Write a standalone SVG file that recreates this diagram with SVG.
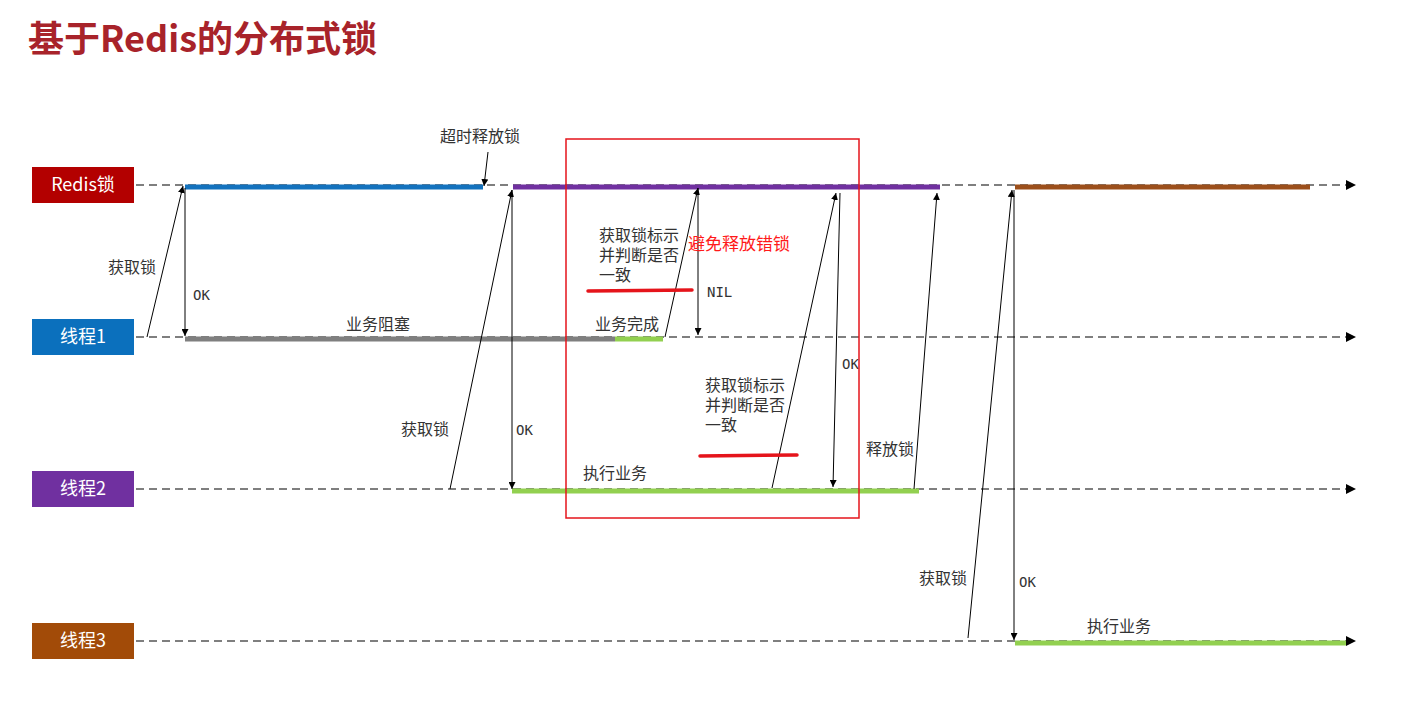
<svg xmlns="http://www.w3.org/2000/svg" width="1403" height="704" viewBox="0 0 1403 704">
<defs>
<marker id="ah" viewBox="0 0 10 10" refX="10" refY="5" markerWidth="7" markerHeight="7" orient="auto-start-reverse" markerUnits="userSpaceOnUse"><path d="M0,0L10,5L0,10z" fill="#000"/></marker>
<marker id="lh" viewBox="0 0 10 10" refX="10" refY="5" markerWidth="10" markerHeight="10" orient="auto" markerUnits="userSpaceOnUse"><path d="M0,0L10,5L0,10z" fill="#000"/></marker>
</defs>
<style>
text{font-family:"Noto Sans CJK SC","Noto Sans",sans-serif}
.t{font-size:16px;fill:#333}
.m{font-family:"DejaVu Sans Mono",monospace;font-size:14px;fill:#333}
.lbl{font-size:18px;fill:#fff}
.lane{stroke:#555;stroke-width:1.3;stroke-dasharray:8,5;fill:none}
.a{stroke:#000;stroke-width:1;fill:none;marker-end:url(#ah)}
.bar{stroke-width:5;fill:none}
</style>
<rect width="1403" height="704" fill="#fff"/>
<text x="28" y="52" font-size="36" font-weight="bold" fill="#a8232a">基于Redis的分布式锁</text>
<g id="lanes">
<line class="lane" x1="136" y1="185" x2="1356" y2="185" marker-end="url(#lh)"/>
<line class="lane" x1="136" y1="337" x2="1356" y2="337" marker-end="url(#lh)"/>
<line class="lane" x1="136" y1="489" x2="1356" y2="489" marker-end="url(#lh)"/>
<line class="lane" x1="136" y1="641" x2="1356" y2="641" marker-end="url(#lh)"/>
</g>
<g id="redis"><rect x="32" y="167" width="102" height="36" fill="#b30000"/><text class="lbl" x="83" y="191" text-anchor="middle">Redis锁</text></g>
<g id="t1"><rect x="32" y="319" width="102" height="36" fill="#0b70bd"/><text class="lbl" x="83" y="343" text-anchor="middle">线程1</text></g>
<g id="t2"><rect x="32" y="471" width="102" height="36" fill="#7030a0"/><text class="lbl" x="83" y="495" text-anchor="middle">线程2</text></g>
<g id="t3"><rect x="32" y="623" width="102" height="36" fill="#a24b08"/><text class="lbl" x="83" y="647" text-anchor="middle">线程3</text></g>
<g id="bars">
<line class="bar" stroke="#1372be" x1="185" y1="187" x2="483" y2="187"/>
<line class="bar" stroke="#7030a0" x1="513" y1="187" x2="940" y2="187"/>
<line class="bar" stroke="#9c4f1b" x1="1015" y1="187" x2="1310" y2="187"/>
<line class="bar" stroke="#7f7f7f" x1="185" y1="339" x2="615" y2="339"/>
<line class="bar" stroke="#92d050" x1="615" y1="339" x2="663" y2="339"/>
<line class="bar" stroke="#92d050" x1="512" y1="491" x2="919" y2="491"/>
<line class="bar" stroke="#92d050" x1="1015" y1="643" x2="1346" y2="643"/>
</g>
<g id="connectors">
<line class="a" x1="147" y1="337" x2="183" y2="186"/>
<line class="a" x1="185" y1="188" x2="185" y2="336"/>
<line class="a" x1="488" y1="152" x2="484" y2="186"/>
<line class="a" x1="450" y1="489" x2="512" y2="190"/>
<line class="a" x1="512" y1="190" x2="512" y2="489"/>
<line class="a" x1="665" y1="337" x2="698" y2="188"/>
<line class="a" x1="698" y1="188" x2="698" y2="335"/>
<line class="a" x1="772" y1="488" x2="836" y2="193"/>
<line class="a" x1="840" y1="193" x2="833" y2="487"/>
<line class="a" x1="914" y1="489" x2="937" y2="193"/>
<line class="a" x1="968" y1="638" x2="1012" y2="190"/>
<line class="a" x1="1014" y1="190" x2="1014" y2="640"/>
</g>
<g id="labels">
<text class="t" x="440" y="142">超时释放锁</text>
<text class="t" x="108" y="273">获取锁</text>
<text class="m" x="193" y="300">OK</text>
<text class="t" x="346" y="330">业务阻塞</text>
<text class="t" x="595" y="330">业务完成</text>
<text class="t" x="599" y="241">获取锁标示</text>
<text class="t" x="599" y="261">并判断是否</text>
<text class="t" x="599" y="281">一致</text>
<text x="688" y="250" font-size="17" fill="#ff1a1a">避免释放错锁</text>
<text class="m" x="707" y="297">NIL</text>
<text class="m" x="842" y="369">OK</text>
<text class="t" x="705" y="391">获取锁标示</text>
<text class="t" x="705" y="411">并判断是否</text>
<text class="t" x="705" y="431">一致</text>
<text class="t" x="401" y="435">获取锁</text>
<text class="m" x="516" y="435">OK</text>
<text class="t" x="583" y="479">执行业务</text>
<text class="t" x="866" y="455">释放锁</text>
<text class="t" x="919" y="584">获取锁</text>
<text class="m" x="1019" y="587">OK</text>
<text class="t" x="1087" y="632">执行业务</text>
</g>
<rect x="566" y="139" width="293" height="379" fill="none" stroke="#e5141b" stroke-width="1.5"/>
<line x1="588" y1="291" x2="692" y2="290" stroke="#e5141b" stroke-width="3.5" stroke-linecap="round"/>
<line x1="700" y1="456" x2="797" y2="455" stroke="#e5141b" stroke-width="3.5" stroke-linecap="round"/>
</svg>
